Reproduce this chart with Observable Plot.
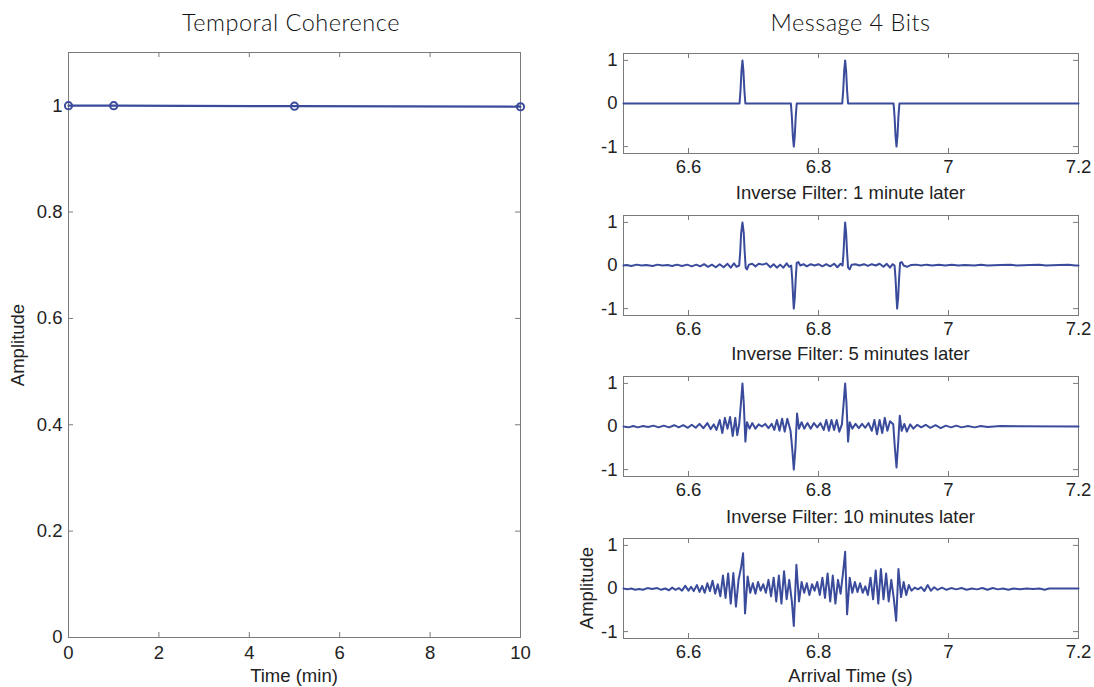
<!DOCTYPE html>
<html><head><meta charset="utf-8">
<script src="https://cdn.jsdelivr.net/npm/d3@7"></script>
<script src="https://cdn.jsdelivr.net/npm/@observablehq/plot@0.6"></script>
<style>
body{margin:0;background:#fff;}
#root{position:relative;width:1094px;height:687px;overflow:hidden;background:#fff;font-family:"Liberation Sans",Arial,sans-serif;color:#222;}
#root svg{position:absolute;}
.txt{position:absolute;white-space:nowrap;transform:translate(-50%,-50%);font-size:18.5px;color:#222;}
.ttl{font-family:Lato,"DejaVu Sans",sans-serif;font-weight:300;font-size:23.5px;letter-spacing:0.5px;color:#111;}
.rot{transform:translate(-50%,-50%) rotate(-90deg);}
</style></head><body><div id="root"></div>
<script>
// ---------- data ----------
const coherenceTime = [0, 1, 5, 10];
const coherenceAmp  = [1, 1, 0.999, 0.998];
const coherenceXTicks = [0, 2, 4, 6, 8, 10];
const coherenceYTicks = [0, 0.2, 0.4, 0.6, 0.8, 1];

const waveXTicks = [6.6, 6.8, 7, 7.2];
const waveYTicks = [-1, 0, 1];

const panelTitles = ["Message 4 Bits", "Inverse Filter: 1 minute later", "Inverse Filter: 5 minutes later", "Inverse Filter: 10 minutes later"];

// original message
const msgT = [6.5, 6.6785, 6.680, 6.6815, 6.683, 6.6845, 6.686, 6.6875,
  6.7575, 6.759, 6.7605, 6.762, 6.7635, 6.765, 6.7665,
  6.8365, 6.838, 6.8395, 6.841, 6.8425, 6.844, 6.8455,
  6.9155, 6.917, 6.9185, 6.920, 6.9215, 6.923, 6.9245, 7.2];
const msgV = [0, 0, 0.3, 0.75, 1, 0.75, 0.3, 0,
  0, -0.3, -0.75, -1, -0.75, -0.3, 0,
  0, 0.3, 0.75, 1, 0.75, 0.3, 0,
  0, -0.3, -0.75, -1, -0.75, -0.3, 0, 0];

// 1 minute later
const f1T = [6.500,6.505,6.512,6.520,6.528,6.535,6.545,6.552,6.560,6.568,6.575,6.582,6.590,6.598,6.605,6.612,6.618,6.624,6.630,6.636,6.642,6.648,6.654,6.660,6.665,6.670,6.674,6.678,
  6.6795,6.681,6.683,6.685,6.6865,6.688,6.690,6.693,6.698,6.703,6.708,6.714,6.720,6.726,6.731,6.736,6.741,6.746,6.751,6.755,6.758,
  6.7595,6.761,6.762,6.7635,6.765,6.7665,6.769,6.772,6.777,6.782,6.788,6.794,6.800,6.806,6.812,6.818,6.824,6.829,6.834,6.837,
  6.8385,6.840,6.841,6.8425,6.844,6.8455,6.848,6.851,6.857,6.863,6.870,6.876,6.882,6.888,6.894,6.900,6.905,6.910,6.914,6.917,
  6.9185,6.920,6.921,6.9225,6.924,6.9255,6.928,6.931,6.936,6.942,6.950,6.958,6.966,6.975,6.985,6.995,7.005,7.015,7.025,7.040,7.050,7.060,7.080,7.095,7.105,7.125,7.140,7.150,7.170,7.185,7.195,7.200];
const f1V = [0,0.01,-0.01,0.02,0,0.01,-0.01,0.02,0,0.01,-0.01,0.02,-0.01,0.02,-0.02,0.02,-0.02,0.03,-0.03,0.02,-0.04,0.03,-0.04,0.04,-0.05,0.05,-0.03,0,
  0.3,0.75,1,0.75,0.3,-0.05,-0.09,0.02,0.04,-0.02,0.04,0.02,0.05,-0.04,0.03,-0.05,0.02,-0.05,0.05,-0.03,0,
  -0.3,-0.75,-1,-0.75,-0.3,0.06,0.08,0,0.03,-0.02,0.03,0,0.03,-0.02,0.03,-0.02,0.04,-0.04,0.04,0,
  0.3,0.75,1,0.75,0.3,-0.05,-0.09,0.02,0.03,0,0.03,-0.01,0.03,0,0.04,-0.03,0.04,-0.05,0.03,0,
  -0.3,-0.75,-1,-0.75,-0.3,0.06,0.08,0,-0.03,0.01,0.02,0,0.02,0,0.02,0,0.02,0,0.01,0,0.02,0,0.01,0.02,0,0.01,0.02,0,0.01,0.02,0,0];

// 5 minutes later
const f5T = [6.500,6.508,6.515,6.522,6.530,6.538,6.546,6.554,6.562,6.570,6.578,6.585,6.592,6.599,6.605,6.611,6.617,6.623,6.629,6.634,6.639,6.643,6.648,6.652,6.656,6.660,6.664,6.668,6.672,6.675,6.678,
  6.681,6.683,6.685,6.6875,6.690,6.694,6.698,6.703,6.708,6.713,6.718,6.723,6.728,6.732,6.736,6.740,6.744,6.748,6.752,6.757,
  6.7595,6.762,6.7645,6.767,6.770,6.774,6.778,6.783,6.788,6.793,6.798,6.803,6.808,6.812,6.816,6.820,6.824,6.828,6.832,6.836,
  6.839,6.841,6.843,6.8455,6.848,6.852,6.857,6.862,6.867,6.872,6.877,6.882,6.886,6.890,6.894,6.898,6.902,6.906,6.910,6.915,
  6.9175,6.920,6.9225,6.925,6.928,6.932,6.936,6.941,6.946,6.952,6.958,6.965,6.972,6.980,6.988,6.996,7.004,7.012,7.020,7.030,7.040,7.050,7.060,7.080,7.200];
const f5V = [0,-0.02,0.01,-0.02,0.01,-0.01,0.02,-0.02,0.02,-0.02,0.03,-0.02,0.03,-0.03,0.04,-0.03,0.06,-0.04,0.08,-0.06,0.05,-0.08,0.15,-0.15,0.2,-0.05,0.22,-0.22,0.2,-0.2,0.05,
  0.6,1,0.55,-0.35,0.1,-0.05,0.08,-0.05,0.05,0,0.06,-0.04,0.06,-0.08,0.15,-0.1,0.18,-0.12,0.18,-0.1,
  -0.5,-1,-0.5,0.3,-0.05,0.1,-0.05,0.08,-0.05,0.08,-0.02,0.08,-0.08,0.15,-0.1,0.15,-0.08,0.15,-0.12,0.05,
  0.6,1,0.55,-0.35,0.1,-0.05,0.06,-0.04,0.06,-0.03,0.08,-0.1,0.15,-0.18,0.15,-0.15,0.2,-0.1,0.12,0.05,
  -0.5,-0.95,-0.4,0.25,-0.1,0.06,-0.12,0.05,-0.05,0.04,-0.02,0.04,-0.03,0.03,-0.04,0.02,-0.02,0.02,-0.02,0.01,-0.02,0.01,-0.01,0.01,0,0];

// 10 minutes later
const f10T = [6.500,6.506,6.512,6.518,6.524,6.530,6.537,6.544,6.552,6.558,6.564,6.570,6.575,6.580,6.585,6.590,6.595,6.600,6.604,6.608,6.613,6.617,6.621,6.625,6.629,6.633,6.637,6.641,6.645,6.649,6.653,6.657,6.661,6.665,6.669,6.673,6.677,
  6.681,6.684,6.687,6.691,6.695,6.699,6.703,6.707,6.711,6.715,6.719,6.723,6.727,6.731,6.735,6.739,6.743,6.747,6.751,6.755,6.759,
  6.762,6.766,6.770,6.774,6.778,6.782,6.786,6.790,6.794,6.798,6.802,6.806,6.810,6.814,6.818,6.822,6.826,6.830,6.834,6.838,
  6.841,6.844,6.848,6.852,6.856,6.860,6.864,6.868,6.872,6.876,6.880,6.884,6.888,6.892,6.896,6.900,6.904,6.908,6.912,6.916,
  6.9195,6.923,6.927,6.931,6.935,6.939,6.943,6.948,6.953,6.958,6.963,6.968,6.973,6.978,6.983,6.990,6.997,7.004,7.012,7.020,7.028,7.036,7.044,7.052,7.060,7.068,7.076,7.084,7.092,7.100,7.110,7.120,7.130,7.140,7.148,7.155,7.200];
const f10V = [0,-0.02,0,-0.03,-0.01,-0.03,0.01,-0.01,0.01,-0.03,0,-0.04,0.02,-0.03,0.01,-0.05,0.06,-0.05,0.04,-0.06,0.08,-0.08,0.06,-0.1,0.12,-0.06,0.18,-0.12,0.1,-0.18,0.3,-0.22,0.35,-0.35,0.36,-0.42,0.2,
  0.5,0.82,-0.58,0.28,-0.1,0.12,-0.12,0.15,-0.05,0.1,-0.1,0.2,-0.18,0.25,-0.3,0.3,-0.35,0.4,-0.25,0.2,-0.3,
  -0.87,0.55,-0.3,0.15,-0.1,0.12,-0.15,0.1,-0.05,0.15,-0.15,0.25,-0.22,0.35,-0.3,0.3,-0.35,0.2,-0.12,0.4,
  0.85,-0.6,0.25,-0.1,0.15,-0.08,0.12,-0.1,0.05,-0.15,0.25,-0.25,0.42,-0.35,0.45,-0.25,0.35,-0.3,0.2,-0.25,
  -0.75,0.45,-0.2,0.15,-0.15,0.08,-0.05,0.02,-0.02,0.03,-0.06,0.08,-0.05,0.03,-0.03,0.02,-0.03,0.01,-0.02,0.01,-0.03,0,-0.02,0.01,-0.03,0.01,-0.02,0,-0.03,0,-0.02,0,-0.01,0,-0.03,0,0];

// ---------- drawing ----------
const root = document.getElementById("root");
const LINE = "#3a4b9b";
const FRAME = "#7a7a7a";
const FONT = {fontFamily: '"Liberation Sans", Arial, sans-serif', fontSize: "18.5px", color: "#222", background: "transparent", overflow: "visible"};

function addText(str, x, y, cls = "") {
  const d = document.createElement("div");
  d.className = "txt " + cls;
  d.textContent = str;
  d.style.left = x + "px";
  d.style.top = y + "px";
  root.appendChild(d);
}
function place(svg, left, top) {
  svg.style.left = left + "px";
  svg.style.top = top + "px";
  root.appendChild(svg);
}
function insideTicks(xt, yt, fw, fh) {
  const L = 5;
  return [
    Plot.tickX(xt, {x: d => d, insetTop: fh - L, stroke: FRAME}),
    Plot.tickX(xt, {x: d => d, insetBottom: fh - L, stroke: FRAME}),
    Plot.tickY(yt, {y: d => d, insetLeft: fw - L, stroke: FRAME}),
    Plot.tickY(yt, {y: d => d, insetRight: fw - L, stroke: FRAME})
  ];
}

// left: temporal coherence
{
  const fl = 68, fr = 520, ft = 52, fb = 637;
  const W = 575, H = 687;
  const data = coherenceTime.map((t, i) => ({t, a: coherenceAmp[i]}));
  const svg = Plot.plot({
    width: W, height: H,
    marginLeft: fl, marginRight: W - fr, marginTop: ft, marginBottom: H - fb,
    style: FONT,
    x: {domain: [0, 10]},
    y: {domain: [0, 1.1]},
    marks: [
      Plot.frame({stroke: FRAME}),
      ...insideTicks(coherenceXTicks, coherenceYTicks, fr - fl, fb - ft),
      Plot.axisX({ticks: coherenceXTicks, tickSize: 0, tickPadding: 8, tickFormat: d => String(d), label: null}),
      Plot.axisY({ticks: coherenceYTicks, tickSize: 0, tickPadding: 6, tickFormat: d => String(d), label: null}),
      Plot.line(data, {x: "t", y: "a", stroke: LINE, strokeWidth: 2.2}),
      Plot.dot(data, {x: "t", y: "a", r: 3.6, stroke: LINE, strokeWidth: 2, fill: "none"})
    ]
  });
  place(svg, 0, 0);
  addText("Temporal Coherence", 291, 22, "ttl");
  addText("Amplitude", 18, (ft + fb) / 2, "rot");
  addText("Time (min)", (fl + fr) / 2, 676);
}

// right: four waveform panels
{
  const fl = 623, fr = 1078;
  const tops = [53, 215, 376, 538];
  const fh = 100;
  const W = 1094 - 580;
  const series = [[msgT, msgV], [f1T, f1V], [f5T, f5V], [f10T, f10V]];
  const titleY = [22, 193, 354, 517];
  series.forEach(([T, V], k) => {
    const data = T.map((t, i) => ({t, v: V[i]}));
    const mt = 14, mb = 32;
    const svg = Plot.plot({
      width: W, height: mt + fh + mb,
      marginLeft: fl - 580, marginRight: 1094 - fr, marginTop: mt, marginBottom: mb,
      style: FONT,
      x: {domain: [6.5, 7.2]},
      y: {domain: [-1.16, 1.16]},
      marks: [
        Plot.frame({stroke: FRAME}),
        ...insideTicks(waveXTicks, waveYTicks, fr - fl, fh),
        Plot.axisX({ticks: waveXTicks, tickSize: 0, tickPadding: 6, tickFormat: d => String(d), label: null}),
        Plot.axisY({ticks: waveYTicks, tickSize: 0, tickPadding: 6, tickFormat: d => String(d), label: null}),
        Plot.line(data, {x: "t", y: "v", stroke: LINE, strokeWidth: 2, strokeLinejoin: "round"})
      ]
    });
    place(svg, 580, tops[k] - mt);
    addText(panelTitles[k], (fl + fr) / 2, titleY[k], k === 0 ? "ttl" : "");
  });
  addText("Amplitude", 587, tops[3] + fh / 2, "rot");
  addText("Arrival Time (s)", (fl + fr) / 2, 676);
}
</script>
</body></html>
